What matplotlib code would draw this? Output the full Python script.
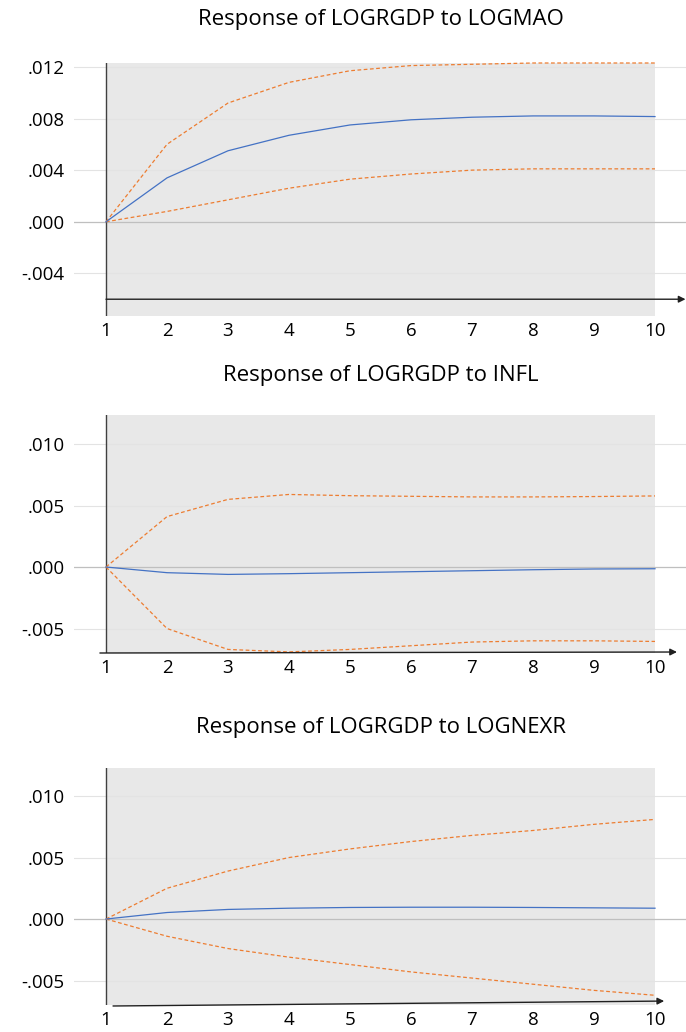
import matplotlib.pyplot as plt
import numpy as np

# periods of the impulse response
periods = np.arange(1, 11)

# Response of LOGRGDP to LOGMAO
mao_resp = [0.0, 0.0034, 0.0055, 0.0067, 0.0075, 0.0079, 0.0081, 0.0082, 0.0082, 0.00815]
mao_upper = [0.0, 0.0060, 0.0092, 0.0108, 0.0117, 0.0121, 0.0122, 0.0123, 0.0123, 0.0123]
mao_lower = [0.0, 0.0008, 0.0017, 0.0026, 0.0033, 0.0037, 0.0040, 0.0041, 0.0041, 0.0041]

# Response of LOGRGDP to INFL
infl_resp = [0.0, -0.00046, -0.0006, -0.00054, -0.00046, -0.00038, -0.0003, -0.00022, -0.00016, -0.00014]
infl_upper = [0.0, 0.0041, 0.0055, 0.0059, 0.0058, 0.00575, 0.0057, 0.0057, 0.00573, 0.00578]
infl_lower = [0.0, -0.0050, -0.0067, -0.0069, -0.0067, -0.0064, -0.0061, -0.0060, -0.0060, -0.00605]

# Response of LOGRGDP to LOGNEXR
nexr_resp = [0.0, 0.00053, 0.00078, 0.00088, 0.00094, 0.00096, 0.00096, 0.00094, 0.00091, 0.00088]
nexr_upper = [0.0, 0.0025, 0.0039, 0.0050, 0.0057, 0.0063, 0.0068, 0.0072, 0.0077, 0.0081]
nexr_lower = [0.0, -0.0014, -0.0024, -0.0031, -0.0037, -0.0043, -0.0048, -0.0053, -0.0058, -0.0062]

titles = ["Response of LOGRGDP to LOGMAO", "Response of LOGRGDP to INFL",
          "Response of LOGRGDP to LOGNEXR"]
yticks_1 = [-0.004, 0.0, 0.004, 0.008, 0.012]
yticks_23 = [-0.005, 0.0, 0.005, 0.010]

plt.rcParams['font.family'] = ['Open Sans', 'DejaVu Sans']

W, H = 686, 1032
fig = plt.figure(figsize=(W / 100, H / 100), dpi=100)

BLUE = '#4472C4'
ORANGE = '#ED7D31'
SHADE = '#E8E8E8'


def fmt(v):
    s = '%.3f' % v
    s = s.replace('0.', '.')
    return s


def panel(top_px, bot_px, ylim, yticks, resp, upper, lower, title, title_y, arrow):
    ax = fig.add_axes([74 / W, 1 - bot_px / H, (W - 74) / W, (bot_px - top_px) / H])
    ax.set_xlim(1 - 32 / 61, 10 + 31 / 61)
    ax.set_ylim(*ylim)
    for s in ax.spines.values():
        s.set_visible(False)

    # shaded plot region
    ax.axvspan(1, 10, color=SHADE, zorder=0, lw=0)
    for t in yticks:
        if t != 0:
            ax.axhline(t, color='#E3E3E3', lw=0.8, zorder=0.5)
    ax.axhline(0, color='#BFBFBF', lw=0.9, zorder=1)
    ax.axvline(1, color='#404040', lw=1.0, zorder=3)

    ax.plot(periods, upper, color=ORANGE, lw=0.9, dashes=(3, 2), zorder=4, clip_on=False)
    ax.plot(periods, lower, color=ORANGE, lw=0.9, dashes=(3, 2), zorder=4, clip_on=False)
    ax.plot(periods, resp, color=BLUE, lw=0.9, zorder=5, clip_on=False)

    (x0, y0), (x1, y1) = arrow
    ax.annotate('', xy=(x1, y1), xytext=(x0, y0), annotation_clip=False,
                arrowprops=dict(arrowstyle='-|>', color='#202020', lw=1.0,
                                mutation_scale=10, shrinkA=0, shrinkB=0), zorder=6)

    ax.set_yticks(yticks)
    ax.set_yticklabels([fmt(t) for t in yticks], fontsize=13.5)
    ax.set_xticks(periods)
    ax.set_xticklabels([str(p) for p in periods], fontsize=13.5)
    ax.tick_params(length=0, axis='y', pad=7)
    ax.tick_params(length=0, axis='x', pad=4)
    fig.text(381 / W, 1 - title_y / H, title, ha='center', va='center', fontsize=16)
    return ax


panel(63, 316, (-0.0073, 0.0123), yticks_1, mao_resp, mao_upper, mao_lower,
      titles[0], 20, ((1, -0.006), (10.5, -0.006)))
panel(415, 653, (-0.00699, 0.01236), yticks_23, infl_resp, infl_upper, infl_lower,
      titles[1], 376, ((0.9, -0.00699), (10.36, -0.00691)))
panel(768, 1005, (-0.00699, 0.01228), yticks_23, nexr_resp, nexr_upper, nexr_lower,
      titles[2], 727, ((1.115, -0.00707), (10.15, -0.00667)))

fig.savefig('out.png', dpi=100, facecolor='white')
